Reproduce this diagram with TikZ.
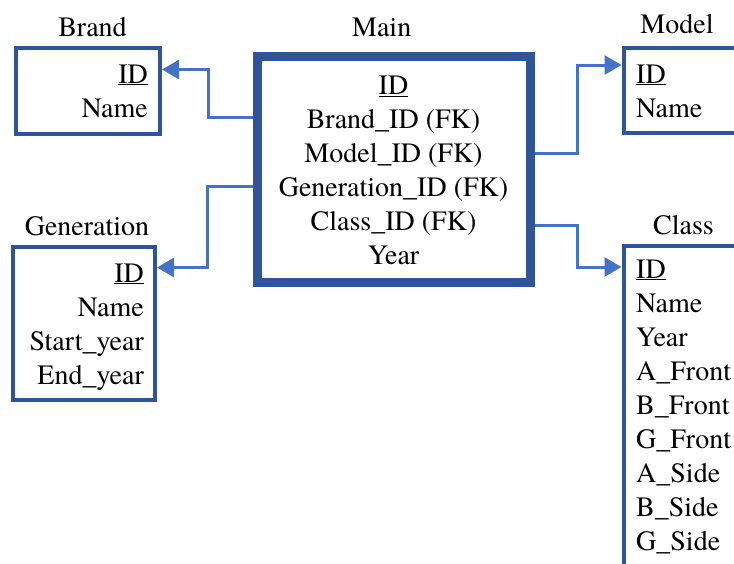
\documentclass[tikz,border=0pt]{standalone}
\usepackage{fontspec}
\setmainfont{TeX Gyre Termes}
\usetikzlibrary{arrows.meta}
\definecolor{boxblue}{HTML}{2F5597}
\definecolor{linkblue}{HTML}{4472C4}
\begin{document}
\begin{tikzpicture}[x=1pt,y=-1pt,
  tbl/.style={draw=boxblue, line width=4pt, fill=white, inner sep=0pt},
  lbl/.style={inner sep=0pt, font=\rmfamily\fontsize{28}{34}\selectfont},
  conn/.style={draw=linkblue, line width=3pt, -{Triangle[length=17pt,width=19pt]}}]
\useasboundingbox (0,0) rectangle (734,563);
\clip (0,0) rectangle (734,563);

% tables
\node[tbl, minimum width=144pt, minimum height=85.5pt] (brand) at (88,90.75) {};
\node[tbl, minimum width=142pt, minimum height=152.8pt] (gen) at (84,323.1) {};
\node[tbl, minimum width=156.5pt, minimum height=85pt] (model) at (701.75,90.5) {};
\node[tbl, minimum width=156.5pt, minimum height=374.2pt] (class) at (701.75,432.9) {};
\node[tbl, line width=9pt, minimum width=273pt, minimum height=226pt] (main) at (394,169.5) {};

% titles
\node[lbl, anchor=base] (brand-title) at (92.5,36) {Brand};
\node[lbl, anchor=base] (main-title) at (381.7,36.5) {Main};
\node[lbl, anchor=base] (model-title) at (677,33.5) {Model};
\node[lbl, anchor=base] (class-title) at (683.5,234.5) {Class};
\node[lbl, anchor=base] (gen-title) at (87,235) {Generation};

% fields
\foreach \t [count=\i] in {{\underline{ID}},Brand\_ID (FK),Model\_ID (FK),Generation\_ID (FK),Class\_ID (FK),Year}
  \node[lbl, anchor=base] (main-\i) at (393.5,{94.5+34*(\i-1)}) {\t};
\foreach \t [count=\i] in {{\underline{ID}},Name}
  \node[lbl, anchor=base east] (brand-\i) at (148,{83+34*(\i-1)}) {\t};
\foreach \t [count=\i] in {{\underline{ID}},Name,Start\_year,End\_year}
  \node[lbl, anchor=base east] (gen-\i) at (144,{282+34*(\i-1)}) {\t};
\foreach \t [count=\i] in {{\underline{ID}},Name}
  \node[lbl, anchor=base west] (model-\i) at (636,{83+34*(\i-1)}) {\t};
\foreach \t [count=\i] in {{\underline{ID}},Name,Year,A\_Front,B\_Front,G\_Front,A\_Side,B\_Side,G\_Side}
  \node[lbl, anchor=base west] (class-\i) at (636,{278+34*(\i-1)}) {\t};

% connectors
\draw[conn] (main.west |- 0,117) -| (208,69.5) -- (brand.east |- 0,69.5);
\draw[conn] (main.west |- 0,186.5) -| (207,267.5) -- (gen.east |- 0,267.5);
\draw[conn] (main.east |- 0,153.5) -| (577.5,65) -- (model.west |- 0,65);
\draw[conn] (main.east |- 0,225) -| (577.5,267) -- (class.west |- 0,267);
\end{tikzpicture}
\end{document}
